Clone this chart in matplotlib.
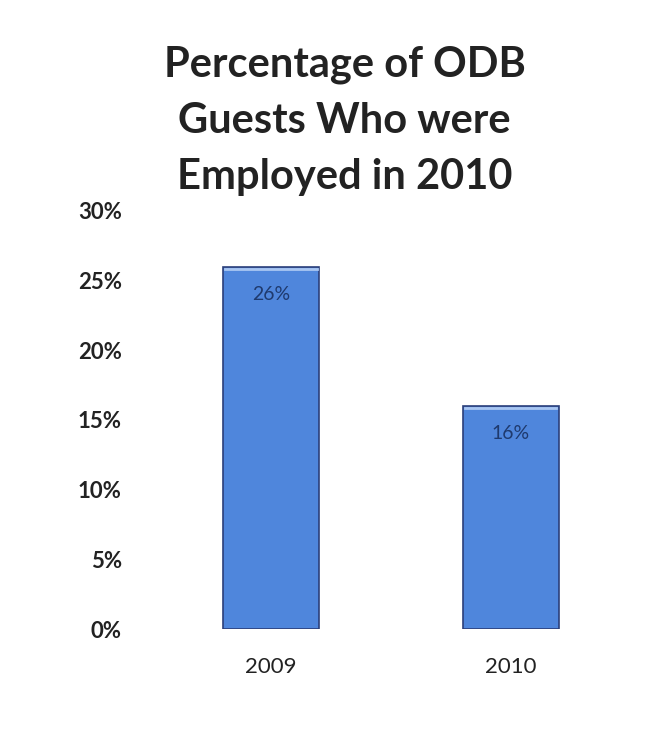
import matplotlib
matplotlib.use("Agg")
import matplotlib.pyplot as plt
from matplotlib.ticker import FuncFormatter

years = ["2009", "2010"]
employed_pct = [26, 16]
y_ticks = [0, 5, 10, 15, 20, 25, 30]

plt.rcParams["font.family"] = ["Lato", "DejaVu Sans"]

fig = plt.figure(figsize=(6.72, 7.4), dpi=100)
fig.patch.set_facecolor("white")
ax = fig.add_axes([0.2247, 0.15, 0.714, 0.565])

x = list(range(len(years)))
bars = ax.bar(x, employed_pct, width=0.4, color="#4f86dc",
              edgecolor="#2b3f7a", linewidth=1.2)
for b in bars:
    # light highlight along the top of each bar
    ax.plot([b.get_x() + 0.01, b.get_x() + b.get_width() - 0.01],
            [b.get_height() - 0.15] * 2, color="#a9c6f2", lw=2, zorder=3)

for xi, v in zip(x, employed_pct):
    ax.text(xi, v - 2.0, f"{v}%", ha="center", va="center",
            fontsize=14, color="#1f3a6e")

ax.set_xlim(-0.5, 1.5)
ax.set_ylim(0, 30)
ax.set_yticks(y_ticks)
ax.yaxis.set_major_formatter(FuncFormatter(lambda v, p: f"{int(v)}%"))
ax.set_xticks(x)
ax.set_xticklabels(years)
ax.tick_params(axis="both", length=0, labelsize=16, colors="#222222")
ax.tick_params(axis="y", pad=21)
ax.tick_params(axis="x", pad=20)
for lab in ax.get_yticklabels():
    lab.set_fontweight("bold")
for s in ax.spines.values():
    s.set_visible(False)

fig.text(0.513, 0.8365, "Percentage of ODB\nGuests Who were\nEmployed in 2010",
         ha="center", va="center", fontsize=30, fontweight="bold",
         color="#222222", linespacing=1.58)

fig.savefig("out.png", dpi=100, facecolor="white")
